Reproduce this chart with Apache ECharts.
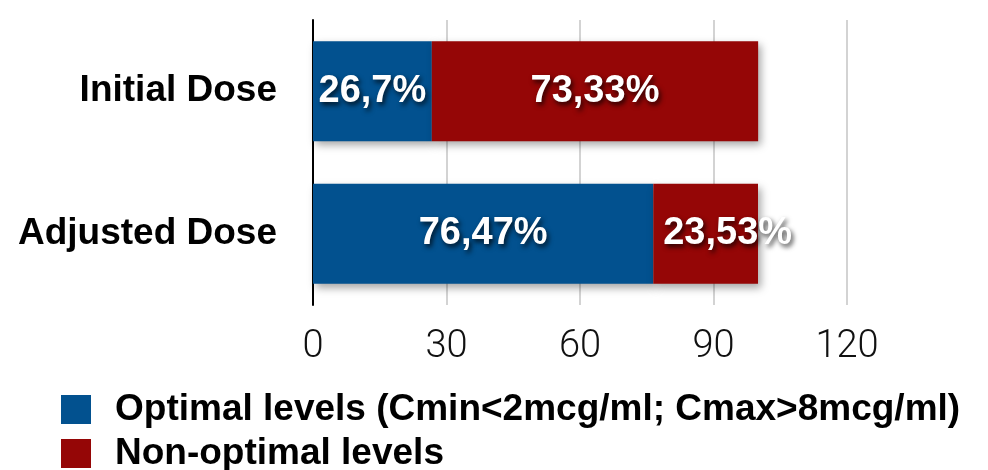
<!DOCTYPE html>
<html>
<head>
<meta charset="utf-8">
<script src="https://cdn.jsdelivr.net/npm/echarts@6/dist/echarts.min.js"></script>
<style>
html,body{margin:0;padding:0;background:#fff;}
#chart{width:988px;height:470px;}
</style>
</head>
<body>
<div id="chart"></div>
<script>
var categories = ['Initial Dose', 'Adjusted Dose'];
var seriesNames = ['Optimal levels (Cmin<2mcg/ml; Cmax>8mcg/ml)', 'Non-optimal levels'];
var optimal = [26.7, 76.47];
var nonOptimal = [73.33, 23.53];
var xTicks = [0, 30, 60, 90, 120];

var BLUE = '#02518f';
var RED = '#950606';
var FONT = '"Liberation Sans", Arial, Helvetica, sans-serif';

function fmt(v) { return String(v).replace('.', ',') + '%'; }

var labelStyle = {
  show: true,
  position: 'inside',
  color: '#fff',
  fontFamily: FONT,
  fontWeight: 'bold',
  fontSize: 38,
  textShadowColor: 'rgba(0,0,0,0.75)',
  textShadowBlur: 5,
  textShadowOffsetX: 2,
  textShadowOffsetY: 3,
  formatter: function (p) { return fmt(p.value); }
};

var barShadow = {
  shadowColor: 'rgba(0,0,0,0.35)',
  shadowBlur: 8,
  shadowOffsetX: 3,
  shadowOffsetY: 4
};

function legendFor(name, top) {
  return {
    orient: 'vertical',
    left: 61,
    top: top,
    padding: 0,
    icon: 'rect',
    itemWidth: 30,
    itemHeight: 29,
    data: [name],
    textStyle: {
      fontFamily: FONT,
      fontWeight: 'bold',
      fontSize: 37,
      color: '#000',
      padding: [0, 0, 0, 19]
    }
  };
}

var chart = echarts.init(document.getElementById('chart'), null, {renderer: 'canvas'});
chart.setOption({
  animation: false,
  backgroundColor: '#fff',
  grid: { left: 313, right: 141, top: 20, bottom: 165, containLabel: false },
  legend: [legendFor(seriesNames[0], 391), legendFor(seriesNames[1], 435)],
  xAxis: {
    type: 'value',
    min: xTicks[0],
    max: xTicks[xTicks.length - 1],
    interval: 30,
    axisLine: { show: false },
    axisTick: { show: false },
    splitLine: { show: true, lineStyle: { color: '#c4c4c4', width: 1.5 } },
    axisLabel: {
      margin: 23,
      fontFamily: '"Roboto", "Liberation Sans", sans-serif',
      fontWeight: 300,
      fontSize: 38,
      color: '#111'
    }
  },
  yAxis: {
    type: 'category',
    data: categories,
    inverse: true,
    axisLine: { show: true, onZero: false, lineStyle: { color: '#000', width: 2 } },
    axisTick: { show: false },
    axisLabel: {
      margin: 36,
      fontFamily: FONT,
      fontWeight: 'bold',
      fontSize: 37,
      color: '#000'
    }
  },
  series: [
    {
      name: seriesNames[0],
      type: 'bar',
      stack: 'total',
      barWidth: 100,
      data: optimal,
      itemStyle: Object.assign({ color: BLUE }, barShadow),
      label: labelStyle
    },
    {
      name: seriesNames[1],
      type: 'bar',
      stack: 'total',
      barWidth: 100,
      data: nonOptimal.map(function (v, i) {
        return i === 1 ? { value: v, label: { offset: [22, 0] } } : v;
      }),
      itemStyle: Object.assign({ color: RED }, barShadow),
      label: labelStyle
    }
  ]
});
</script>
</body>
</html>
